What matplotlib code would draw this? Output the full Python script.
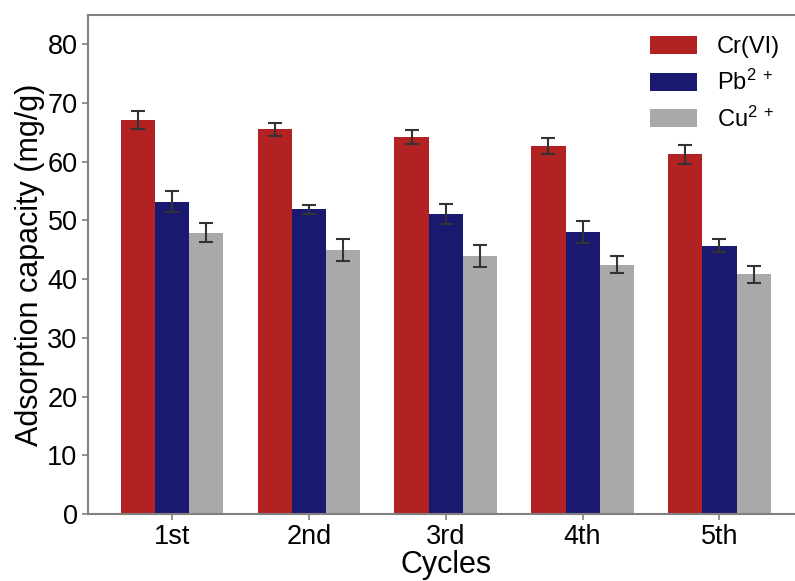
import matplotlib
matplotlib.use("Agg")
import matplotlib.pyplot as plt
import numpy as np

plt.rcParams['font.family'] = ['Liberation Sans', 'DejaVu Sans']
plt.rcParams['mathtext.fontset'] = 'custom'
plt.rcParams['mathtext.rm'] = 'Liberation Sans'
plt.rcParams['mathtext.it'] = 'Liberation Sans:italic'

cycles = ['1st', '2nd', '3rd', '4th', '5th']
cr = [67.1, 65.5, 64.2, 62.7, 61.3]
cr_err = [1.5, 1.1, 1.2, 1.35, 1.6]
pb = [53.2, 51.9, 51.1, 48.0, 45.7]
pb_err = [1.8, 0.8, 1.7, 1.9, 1.15]
cu = [47.9, 45.0, 44.0, 42.5, 40.8]
cu_err = [1.6, 1.9, 1.85, 1.5, 1.4]

labels = ['Cr(VI)', 'Pb$^{2\\ +}$', 'Cu$^{2\\ +}$']
colors = ['#b22222', '#191970', '#a9a9a9']

fig = plt.figure(figsize=(7.95, 5.81), dpi=100)
ax = fig.add_axes([0.1107, 0.1153, 0.90, 0.8589])

x = np.arange(len(cycles))
w = 0.25
err_kw = dict(ecolor='#333333', elinewidth=1.5, capsize=5, capthick=1.5)
for i, (vals, errs) in enumerate([(cr, cr_err), (pb, pb_err), (cu, cu_err)]):
    ax.bar(x + (i - 1) * w, vals, w, yerr=errs, color=colors[i],
           label=labels[i], error_kw=err_kw)

ax.set_xlim(-0.614, 4.614)
ax.set_ylim(0, 85)
ax.set_yticks(range(0, 81, 10))
ax.set_xticks(x)
ax.set_xticklabels(cycles)
ax.tick_params(labelsize=19.5, color='#808080', length=4, width=1.2)
ax.set_xlabel('Cycles', fontsize=22, labelpad=0)
ax.set_ylabel('Adsorption capacity (mg/g)', fontsize=22, labelpad=2)
for s in ax.spines.values():
    s.set_color('#808080')
    s.set_linewidth(1.5)

ax.legend(loc='upper right', bbox_to_anchor=(0.997, 1.0), frameon=False,
          fontsize=17, handlelength=2.0, handleheight=0.8,
          labelspacing=0.48, handletextpad=0.85)

fig.savefig('out.png', dpi=100)
